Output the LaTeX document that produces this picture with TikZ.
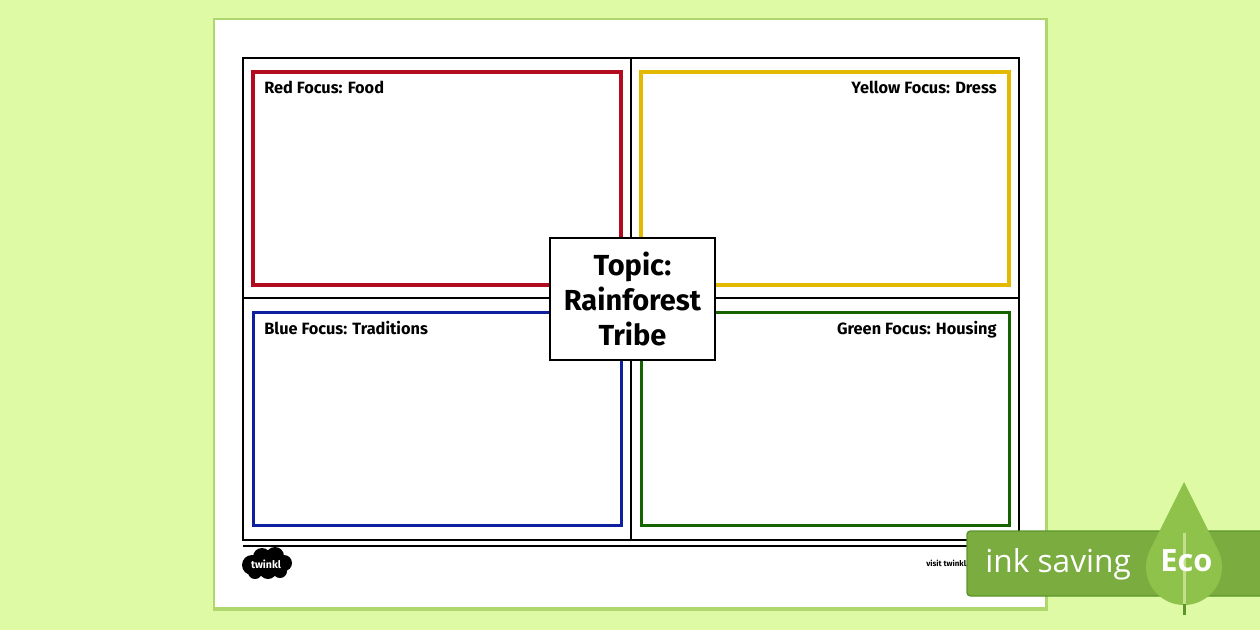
\documentclass[tikz,border=0pt]{standalone}
\usepackage{fontspec}
\setmainfont{Fira Sans}
\newfontfamily\badgefont{Open Sans}
\definecolor{bggreen}{RGB}{223,250,165}
\definecolor{shadowgreen}{RGB}{176,214,110}
\definecolor{redf}{RGB}{178,10,30}
\definecolor{yellowf}{RGB}{228,186,0}
\definecolor{bluef}{RGB}{12,32,160}
\definecolor{greenf}{RGB}{22,100,0}
\definecolor{badgefill}{RGB}{122,172,64}
\definecolor{badgeedge}{RGB}{92,150,40}
\definecolor{dropfill}{RGB}{142,194,74}
\definecolor{stempale}{RGB}{196,224,140}

\begin{document}
\begin{tikzpicture}[x=0.02cm,y=-0.02cm,inner sep=0pt,
                    focus/.style={draw=#1,line width=2.2pt,minimum width=7.36cm,minimum height=4.26cm},
                    focuslabel/.style={font=\bfseries\fontsize{9.3}{11}\selectfont},
                    badgetext/.style={text=white,anchor=base west}]

  \useasboundingbox (0,0) rectangle (1260,630);
  \fill[bggreen] (0,0) rectangle (1260,630);
  % page
  \fill[shadowgreen] (213,18) rectangle (1048,611);
  \fill[white] (215,20) rectangle (1045,607);

  % frame
  \draw[line width=0.8pt] (243,58) rectangle (1019,540);
  \draw[line width=0.6pt] (631,58) -- (631,540);
  \draw[line width=0.6pt] (243,298) -- (1019,298);
  \draw[line width=1.2pt] (243,546) -- (1019,546);

  \node[focus=redf]    (red)    at (437,178.5)   {};
  \node[focus=yellowf] (yellow) at (825,178.5)   {};
  \node[focus=bluef]   (blue)   at (437.5,419)   {};
  \node[focus=greenf]  (green)  at (825.5,419)   {};

  \node[focuslabel,anchor=base west] (redlabel)    at (264,93)  {Red Focus: Food};
  \node[focuslabel,anchor=base east] (yellowlabel) at (997,93)  {Yellow Focus: Dress};
  \node[focuslabel,anchor=base west] (bluelabel)   at (264,334) {Blue Focus: Traditions};
  \node[focuslabel,anchor=base east] (greenlabel)  at (997,334) {Green Focus: Housing};

  \node[draw,line width=1.1pt,fill=white,minimum width=3.3cm,minimum height=2.44cm,
        align=center,font=\bfseries\fontsize{16.5}{19.8}\selectfont] (topic) at (632.5,299)
        {Topic:\\Rainforest\\Tribe};

  % logo
  \fill (252,565) circle (10) (262,557) circle (9) (275,556) circle (9) (284,563) circle (8)
        (268,570) circle (9) (255,572) circle (7) (280,571) circle (7);
  \node[text=white,font=\bfseries\fontsize{6}{7}\selectfont] (twinkl) at (266,564) {twinkl};
  \node[font=\bfseries\fontsize{4.5}{5}\selectfont,anchor=base west] (visit) at (926,566) {visit twinkl.co.uk};

  % eco badge
  \draw[draw=badgeedge,fill=badgefill,rounded corners=2pt,line width=0.8pt] (967,531) rectangle (1264,596);
  \coordinate (dropc) at (1184,567);
  \fill[dropfill] (1184,482) -- ([shift={(dropc)}]-26.6:38) arc[start angle=-26.6,end angle=206.6,radius=38] -- cycle;
  \draw[stempale,line width=1.7pt] (1184,533) -- (1184,604);
  \draw[badgeedge,line width=1.7pt] (1184,604) -- (1184,615);
  \node[badgetext,font=\badgefont\fontsize{18}{20}\selectfont] (inksaving) at (985,572) {ink saving};
  \node[badgetext,font=\badgefont\bfseries\fontsize{17.5}{20}\selectfont] (eco) at (1160,571) {Eco};
\end{tikzpicture}
\end{document}
